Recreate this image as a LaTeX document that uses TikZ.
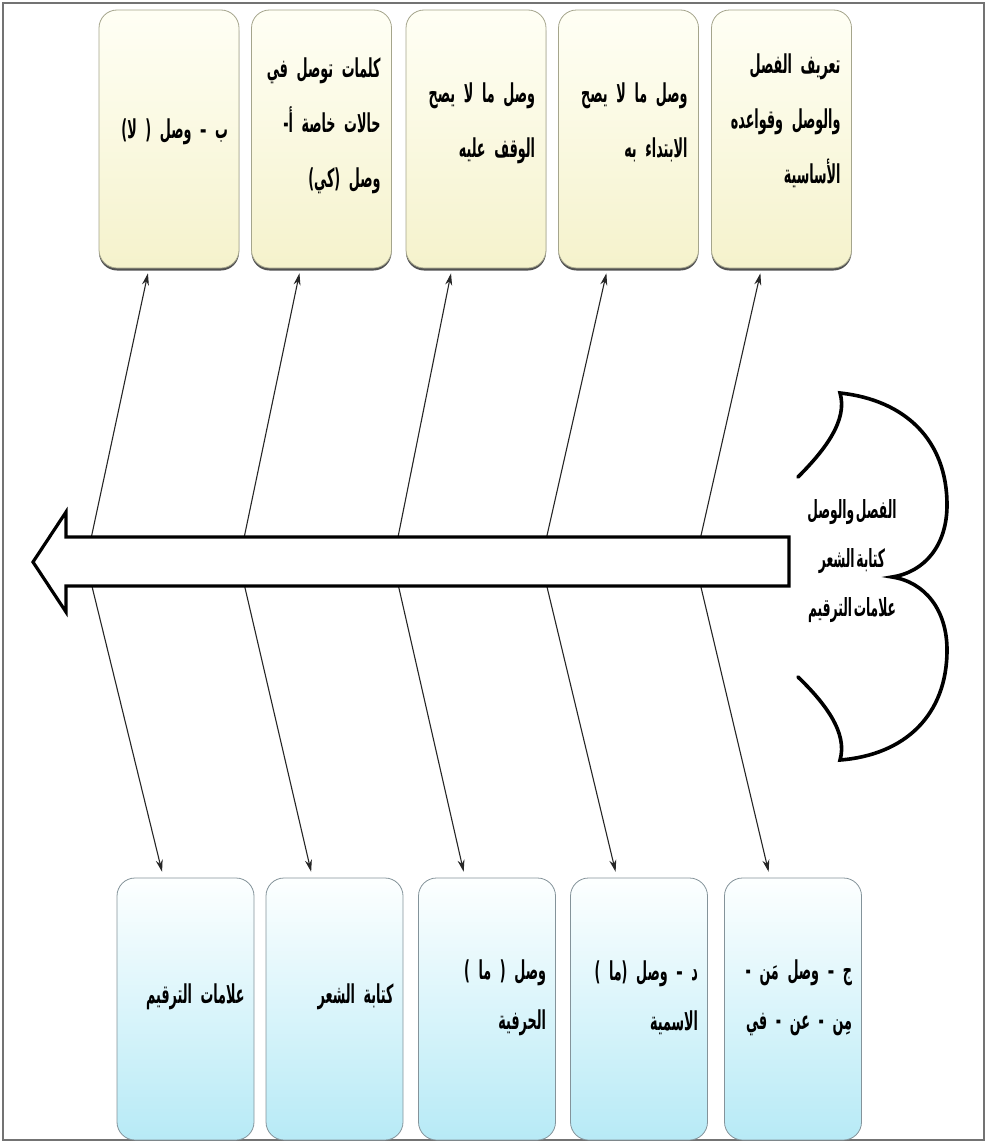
\documentclass[tikz,border=0pt]{standalone}
\usepackage{fontspec}
\usepackage{xcolor}
\usepackage{tikz}
\usetikzlibrary{positioning, arrows.meta, shadows}
\TeXXeTstate=1
\newfontfamily\arabicfont[Script=Arabic, FakeStretch=0.49, WordSpace=0.38]{DejaVu Sans}
\newfontfamily\arabiccore[Script=Arabic, FakeStretch=0.49, WordSpace=0.4]{DejaVu Sans}
\newcommand{\artxt}[1]{\mbox{\bfseries\beginR #1\endR}}
\definecolor{creamtop}{HTML}{FFFFF5}
\definecolor{creambot}{HTML}{F5F2CC}
\definecolor{creamline}{HTML}{A5A58C}
\definecolor{skytop}{HTML}{FDFFFF}
\definecolor{skybot}{HTML}{B7EAF6}
\definecolor{skyline}{HTML}{84939A}
\definecolor{inkgray}{HTML}{262626}

\tikzset{
  topbox/.style={rounded corners=18pt, draw=creamline, line width=0.8pt,
    top color=creamtop, bottom color=creambot, minimum width=140pt, minimum height=258pt,
    drop shadow={shadow xshift=0pt, shadow yshift=-2.5pt, fill=black!80, opacity=0.85}},
  botbox/.style={rounded corners=18pt, draw=skyline, line width=0.8pt,
    top color=skytop, bottom color=skybot, minimum width=137pt, minimum height=262pt},
  toptext/.style={text width=118pt, align=right, inner sep=0pt,
    font=\arabicfont\fontsize{26}{55}\selectfont},
  bottext/.style={text width=118pt, align=right, inner sep=0pt,
    font=\arabicfont\fontsize{26}{50}\selectfont},
  coretext/.style={align=center, inner sep=0pt, font=\arabiccore\fontsize{25}{49}\selectfont},
  link/.style={draw=inkgray, line width=1.1pt,
    {Stealth[length=12pt, width=7pt]}-{Stealth[length=12pt, width=7pt]},
    shorten <=5pt, shorten >=6pt}
}

\begin{document}
\begin{tikzpicture}[x=1pt, y=-1pt]
  \useasboundingbox (0,0) rectangle (987,1143);
  \draw[black!55, line width=1.2pt] (3,3) rectangle (984,1140);

  % points on the spine
  \coordinate (v1) at (86,562);
  \coordinate (v2) at (239,562);
  \coordinate (v3) at (393,562);
  \coordinate (v4) at (541,562);
  \coordinate (v5) at (695,562);

  % top row
  \node[topbox] (wla) at (169,139) {};
  \node[topbox] (kay) at (321.5,139) {};
  \node[topbox] (nostop) at (476,139) {};
  \node[topbox] (nostart) at (628.5,139) {};
  \node[topbox] (def) at (781.5,139) {};
  \node[toptext] (wla-txt) at ([yshift=7pt]wla.center) {\artxt{ب – وصل ( لا)}};
  \node[toptext] (kay-txt) at ([yshift=13pt]kay.center) {\artxt{كلمات توصل في}\\\artxt{حالات خاصة أ-}\\\artxt{وصل (كي)}};
  \node[toptext] (nostop-txt) at ([yshift=16pt]nostop.center) {\artxt{وصل ما لا يصح}\\\artxt{الوقف عليه}};
  \node[toptext] (nostart-txt) at ([yshift=17pt]nostart.center) {\artxt{وصل ما لا يصح}\\\artxt{الابتداء به}};
  \node[toptext] (def-txt) at ([yshift=18pt]def.center) {\artxt{تعريف الفصل}\\\artxt{والوصل وقواعده}\\\artxt{الأساسية}};

  % bottom row
  \node[botbox] (punct) at (185.5,1009) {};
  \node[botbox] (poetry) at (334.5,1009) {};
  \node[botbox] (mharf) at (487,1009) {};
  \node[botbox] (mism) at (639,1009) {};
  \node[botbox] (mnan) at (793,1009) {};
  \node[bottext] (punct-txt) at ([yshift=12pt]punct.center) {\artxt{علامات الترقيم}};
  \node[bottext] (poetry-txt) at ([yshift=12pt]poetry.center) {\artxt{كتابة الشعر}};
  \node[bottext] (mharf-txt) at ([yshift=11pt]mharf.center) {\artxt{وصل ( ما )}\\\artxt{الحرفية}};
  \node[bottext] (mism-txt) at ([yshift=11pt]mism.center) {\artxt{د – وصل (ما )}\\\artxt{الاسمية}};
  \node[bottext] (mnan-txt) at ([yshift=11pt]mnan.center) {\artxt{ج – وصل مَن -}\\\artxt{مِن - عن - في}};

  % bones
  \draw[link] ([xshift=-20pt]wla.south) -- (v1) -- ([xshift=-22pt]punct.north);
  \draw[link] ([xshift=-21pt]kay.south) -- (v2) -- ([xshift=-22pt]poetry.north);
  \draw[link] ([xshift=-24pt]nostop.south) -- (v3) -- ([xshift=-22pt]mharf.north);
  \draw[link] ([xshift=-21pt]nostart.south) -- (v4) -- ([xshift=-22pt]mism.north);
  \draw[link] ([xshift=-20pt]def.south) -- (v5) -- ([xshift=-23pt]mnan.north);

  % spine
  \draw[line width=3.2pt, fill=white, line join=miter]
    (33,562) -- (66,512) -- (66,537) -- (789,537) -- (789,586) -- (66,586) -- (66,612) -- cycle;

  % head
  \draw[line width=3.6pt, line cap=round]
    (798,477) .. controls (825,450) and (848,420) .. (840,393)
    .. controls (905,400) and (947,440) .. (947,505)
    .. controls (947,545) and (925,572) .. (892,577)
    .. controls (925,582) and (947,610) .. (947,650)
    .. controls (947,715) and (905,755) .. (840,760)
    .. controls (848,733) and (825,703) .. (798,677);
  \node[coretext] (core) at (852,561) {\artxt{الفصل والوصل}\\\artxt{كتابة الشعر}\\\artxt{علامات الترقيم}};
\end{tikzpicture}
\end{document}
